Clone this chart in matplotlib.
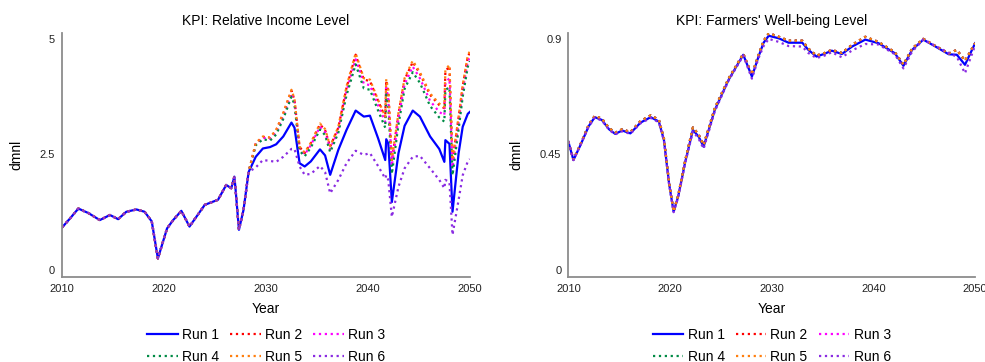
import matplotlib
matplotlib.use("Agg")
import matplotlib.pyplot as plt

plt.rcParams["font.family"] = ["Liberation Sans", "DejaVu Sans"]

# ---- KPI: Relative Income Level -------------------------------------------
inc_t = [2010.0, 2010.8, 2011.6, 2012.6, 2013.7, 2014.7, 2015.5, 2016.3, 2017.3,
         2018.1, 2018.8, 2019.4, 2020.3, 2020.9, 2021.7, 2022.5, 2024.0, 2025.3,
         2026.1, 2026.6, 2026.9, 2027.0, 2027.35, 2027.8, 2028.3,
         2029.0, 2029.7, 2030.4, 2031.0, 2031.7, 2032.5, 2032.8, 2033.3, 2033.8,
         2034.4, 2035.3, 2035.8, 2036.3, 2037.1, 2037.9, 2038.8, 2039.6, 2040.2,
         2041.0, 2041.7, 2041.8, 2042.0, 2042.35, 2043.0, 2043.6, 2044.4, 2045.1,
         2046.1, 2047.0, 2047.5, 2047.6, 2048.0, 2048.3, 2048.9, 2049.3, 2049.8,
         2050.0]
# all runs share the path up to 2028
inc_common = [0.92, 1.12, 1.33, 1.23, 1.08, 1.19, 1.10, 1.26, 1.31, 1.26, 1.05,
              0.25, 0.90, 1.08, 1.28, 0.94, 1.41, 1.52, 1.84, 1.77, 2.02, 1.80,
              0.87, 1.30, 2.12]
inc_run1 = [2.45, 2.63, 2.66, 2.72, 2.89, 3.19, 3.08, 2.31, 2.24, 2.35, 2.61,
            2.48, 2.06, 2.60, 3.03, 3.45, 3.32, 3.34, 2.85, 2.38, 2.83, 2.74,
            1.47, 2.53, 3.12, 3.45, 3.32, 2.89, 2.62, 2.34, 2.81, 2.73, 1.26,
            2.53, 3.10, 3.38, 3.42]
inc_run2 = [2.74, 2.88, 2.86, 3.02, 3.38, 3.88, 3.68, 2.66, 2.53, 2.74, 3.15,
            3.03, 2.67, 3.08, 3.94, 4.66, 4.12, 4.09, 3.66, 3.30, 4.10, 3.87,
            2.36, 3.38, 4.12, 4.50, 4.25, 3.79, 3.57, 3.50, 4.30, 4.41, 2.36,
            3.30, 3.97, 4.62, 4.70]
inc_run3 = [2.72, 2.86, 2.84, 2.98, 3.33, 3.82, 3.63, 2.62, 2.50, 2.70, 3.10,
            2.98, 2.62, 3.03, 3.87, 4.56, 4.03, 4.00, 3.56, 3.20, 3.95, 3.70,
            2.25, 3.28, 4.02, 4.40, 4.15, 3.66, 3.42, 3.35, 4.05, 4.15, 2.22,
            3.20, 3.88, 4.52, 4.60]
inc_run4 = [2.70, 2.83, 2.80, 2.93, 3.27, 3.75, 3.58, 2.58, 2.46, 2.65, 3.04,
            2.92, 2.55, 2.97, 3.78, 4.45, 3.93, 3.90, 3.45, 3.08, 3.80, 3.55,
            2.08, 3.15, 3.92, 4.28, 4.05, 3.55, 3.30, 3.21, 3.90, 3.95, 2.05,
            3.05, 3.75, 4.40, 4.52]
inc_run5 = [2.75, 2.89, 2.87, 3.03, 3.40, 3.90, 3.70, 2.67, 2.54, 2.75, 3.17,
            3.05, 2.68, 3.10, 3.97, 4.69, 4.15, 4.12, 3.68, 3.32, 4.13, 3.90,
            2.38, 3.40, 4.15, 4.53, 4.28, 3.82, 3.60, 3.53, 4.33, 4.44, 2.38,
            3.32, 4.00, 4.65, 4.73]
inc_run6 = [2.22, 2.38, 2.36, 2.34, 2.45, 2.62, 2.62, 2.24, 2.06, 2.08, 2.25,
            2.12, 1.66, 1.95, 2.31, 2.58, 2.49, 2.53, 2.25, 1.98, 2.05, 1.95,
            1.15, 1.80, 2.20, 2.45, 2.47, 2.20, 1.95, 1.77, 1.95, 1.90, 0.76,
            1.52, 2.05, 2.35, 2.40]

# ---- KPI: Farmers' Well-being Level ---------------------------------------
fw_t = [2010.0, 2010.5, 2011.2, 2012.0, 2012.6, 2013.3, 2014.0, 2014.6, 2015.3,
        2016.1, 2017.1, 2018.1, 2018.9, 2019.4, 2019.9, 2020.35, 2020.8, 2021.5,
        2022.25, 2022.8, 2023.3, 2024.4, 2025.75, 2027.2, 2028.05, 2028.7,
        2029.2, 2029.7, 2030.7, 2031.65, 2033.0, 2033.6, 2034.4, 2035.2, 2035.9,
        2036.9, 2037.9, 2039.2, 2040.5, 2042.1, 2042.95, 2043.8, 2044.9, 2046.1,
        2047.4, 2048.2, 2049.0, 2050.0]
fw_run1 = [0.500, 0.428, 0.487, 0.560, 0.595, 0.584, 0.548, 0.530, 0.543, 0.532,
           0.574, 0.595, 0.578, 0.506, 0.338, 0.227, 0.286, 0.422, 0.545, 0.520,
           0.480, 0.623, 0.740, 0.838, 0.753, 0.831, 0.885, 0.912, 0.902, 0.885,
           0.885, 0.857, 0.831, 0.842, 0.854, 0.841, 0.870, 0.897, 0.883, 0.844,
           0.795, 0.857, 0.897, 0.870, 0.840, 0.838, 0.799, 0.883]
# runs 2-5 lie on top of each other
fw_run2_5 = [0.500, 0.430, 0.490, 0.565, 0.600, 0.589, 0.553, 0.535, 0.548, 0.537,
             0.580, 0.602, 0.585, 0.512, 0.342, 0.228, 0.290, 0.428, 0.555, 0.528,
             0.487, 0.630, 0.745, 0.842, 0.760, 0.838, 0.892, 0.922, 0.908, 0.893,
             0.893, 0.862, 0.835, 0.845, 0.857, 0.845, 0.877, 0.908, 0.888, 0.848,
             0.800, 0.862, 0.900, 0.872, 0.843, 0.857, 0.815, 0.883]
fw_run6 = [0.500, 0.428, 0.487, 0.558, 0.593, 0.582, 0.546, 0.528, 0.540, 0.530,
           0.571, 0.592, 0.575, 0.503, 0.335, 0.225, 0.283, 0.418, 0.540, 0.512,
           0.472, 0.618, 0.737, 0.835, 0.745, 0.825, 0.872, 0.900, 0.888, 0.872,
           0.870, 0.845, 0.825, 0.835, 0.848, 0.828, 0.855, 0.880, 0.878, 0.840,
           0.785, 0.850, 0.897, 0.872, 0.845, 0.830, 0.766, 0.875]

run_labels = ["Run 1", "Run 2", "Run 3", "Run 4", "Run 5", "Run 6"]
run_colors = ["#0000ff", "#ff0000", "#ff00ff", "#008b45", "#ff7f0e", "#8a2be2"]

inc_series = [inc_common + r for r in
              (inc_run1, inc_run2, inc_run3, inc_run4, inc_run5, inc_run6)]
fw_series = [fw_run1, fw_run2_5, fw_run2_5, fw_run2_5, fw_run2_5, fw_run6]


def draw_panel(ax, t, series, title, yticks, ytl, ylim):
    lines = []
    for i, (vals, lab, col) in enumerate(zip(series, run_labels, run_colors)):
        ls = "-" if i == 0 else ":"
        ln, = ax.plot(t, vals, ls, color=col, lw=1.6, label=lab)
        lines.append(ln)
    ax.set_xlim(2010, 2050)
    ax.set_ylim(*ylim)
    ax.set_xticks([2010, 2020, 2030, 2040, 2050])
    ax.set_yticks(yticks)
    ax.set_yticklabels(ytl)
    ax.tick_params(length=0, labelsize=8, colors="#222222", pad=5)
    ax.tick_params(axis="x", pad=5)
    for s in ("top", "right"):
        ax.spines[s].set_visible(False)
    for s in ("left", "bottom"):
        ax.spines[s].set_color("#8c8c8c")
        ax.spines[s].set_linewidth(1.3)
    ax.set_title(title, fontsize=10, pad=6)
    ax.set_xlabel("Year", fontsize=10, labelpad=6)
    ax.set_ylabel("dmnl", fontsize=10, labelpad=12)
    # legend fills row by row: Run 1-3 on top, Run 4-6 below
    order = [0, 3, 1, 4, 2, 5]
    ax.legend([lines[k] for k in order], [run_labels[k] for k in order],
              loc="upper center", bbox_to_anchor=(0.5, -0.18), ncol=3,
              frameon=False, fontsize=10, handlelength=2.2, handletextpad=0.3,
              columnspacing=0.8, labelspacing=0.6, borderpad=0)


fig = plt.figure(figsize=(9.85, 3.62), dpi=100)
ax1 = fig.add_axes([0.063, 0.235, 0.414, 0.674])
ax2 = fig.add_axes([0.577, 0.235, 0.413, 0.674])
draw_panel(ax1, inc_t, inc_series, "KPI: Relative Income Level",
           [0, 2.5, 5], ["0", "2.5", "5"], (-0.15, 5.13))
draw_panel(ax2, fw_t, fw_series, "KPI: Farmers' Well-being Level",
           [0, 0.45, 0.9], ["0", "0.45", "0.9"], (-0.027, 0.923))
fig.savefig("out.png", dpi=100)
